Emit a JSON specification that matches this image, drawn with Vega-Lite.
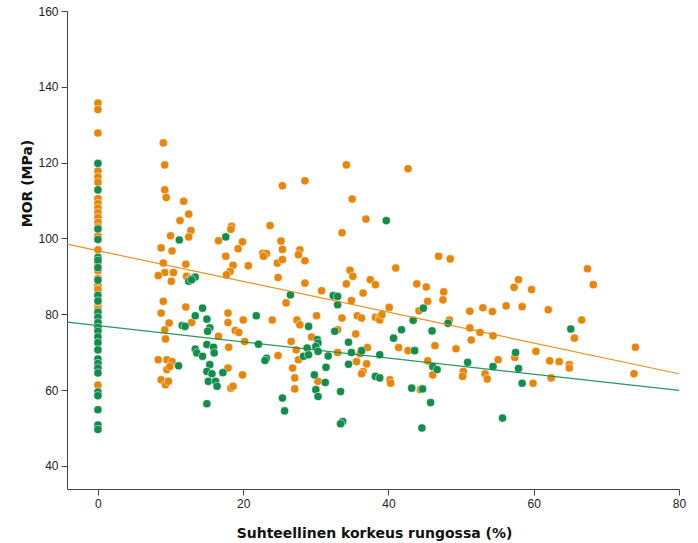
{
"$schema": "https://vega.github.io/schema/vega-lite/v6.json",
"width": 612, "height": 478,
"autosize": {"type": "none"},
"padding": {"left": 67, "top": 11, "right": 19, "bottom": 54},
"background": "white",
"config": {
 "view": {"stroke": null},
 "axis": {"grid": false, "domainColor": "#444", "tickColor": "#444", "tickSize": 6, "labelFont": "Liberation Sans", "labelFontSize": 12, "labelColor": "#222", "titleFont": "DejaVu Sans", "titleFontWeight": "bold", "titleFontSize": 14, "titleColor": "#111", "labelPadding": 3}
},
"datasets": {
"pts": [
{"x":0,"y":135.7,"g":"A"},{"x":0,"y":134.0,"g":"A"},{"x":0,"y":127.8,"g":"A"},{"x":0,"y":117.8,"g":"A"},{"x":0,"y":116.2,"g":"A"},{"x":0,"y":114.8,"g":"A"},{"x":0,"y":110.5,"g":"A"},{"x":0,"y":109.2,"g":"A"},{"x":0,"y":108.0,"g":"A"},{"x":0,"y":106.8,"g":"A"},{"x":0,"y":105.5,"g":"A"},{"x":0,"y":104.2,"g":"A"},{"x":0,"y":103.0,"g":"A"},{"x":0,"y":100.6,"g":"A"},{"x":0,"y":97.0,"g":"A"},{"x":0,"y":93.6,"g":"A"},{"x":0,"y":91.5,"g":"A"},{"x":0,"y":89.5,"g":"A"},{"x":0,"y":87.5,"g":"A"},{"x":0,"y":86.5,"g":"A"},{"x":0,"y":83.8,"g":"A"},{"x":0,"y":82.0,"g":"A"},{"x":0,"y":81.2,"g":"A"},{"x":0,"y":76.8,"g":"A"},{"x":0,"y":61.3,"g":"A"},
{"x":0,"y":119.8,"g":"B"},{"x":0,"y":112.8,"g":"B"},{"x":0,"y":102.5,"g":"B"},{"x":0,"y":99.7,"g":"B"},{"x":0,"y":95.0,"g":"B"},{"x":0,"y":94.2,"g":"B"},{"x":0,"y":92.3,"g":"B"},{"x":0,"y":89.0,"g":"B"},{"x":0,"y":85.0,"g":"B"},{"x":0,"y":83.5,"g":"B"},{"x":0,"y":80.5,"g":"B"},{"x":0,"y":79.2,"g":"B"},{"x":0,"y":77.8,"g":"B"},{"x":0,"y":76.5,"g":"B"},{"x":0,"y":75.5,"g":"B"},{"x":0,"y":74.0,"g":"B"},{"x":0,"y":72.5,"g":"B"},{"x":0,"y":70.6,"g":"B"},{"x":0,"y":68.2,"g":"B"},{"x":0,"y":67.0,"g":"B"},{"x":0,"y":65.8,"g":"B"},{"x":0,"y":64.5,"g":"B"},{"x":0,"y":59.5,"g":"B"},{"x":0,"y":58.5,"g":"B"},{"x":0,"y":54.8,"g":"B"},{"x":0,"y":50.8,"g":"B"},{"x":0,"y":49.6,"g":"B"},
{"x":9.0,"y":125.2,"g":"A"},{"x":9.2,"y":119.4,"g":"A"},{"x":9.2,"y":112.8,"g":"A"},{"x":9.4,"y":110.8,"g":"A"},{"x":11.8,"y":109.8,"g":"A"},{"x":12.5,"y":106.4,"g":"A"},{"x":11.3,"y":104.7,"g":"A"},{"x":12.8,"y":102.1,"g":"A"},{"x":12.5,"y":100.4,"g":"A"},{"x":10.0,"y":100.7,"g":"A"},{"x":8.7,"y":97.5,"g":"A"},{"x":10.2,"y":96.7,"g":"A"},
{"x":18.4,"y":103.2,"g":"A"},{"x":18.3,"y":102.4,"g":"A"},{"x":16.6,"y":99.4,"g":"A"},{"x":19.9,"y":99.1,"g":"A"},{"x":19.3,"y":97.3,"g":"A"},{"x":17.6,"y":95.3,"g":"A"},{"x":23.7,"y":103.4,"g":"A"},{"x":25.4,"y":113.9,"g":"A"},{"x":28.5,"y":115.2,"g":"A"},{"x":25.2,"y":99.3,"g":"A"},{"x":25.4,"y":97.1,"g":"A"},{"x":22.7,"y":96.1,"g":"A"},{"x":23.2,"y":96.0,"g":"A"},{"x":22.8,"y":95.3,"g":"A"},{"x":27.8,"y":97.0,"g":"A"},{"x":27.6,"y":95.7,"g":"A"},{"x":28.5,"y":94.1,"g":"A"},{"x":24.7,"y":93.5,"g":"A"},{"x":25.4,"y":94.4,"g":"A"},{"x":24.8,"y":89.7,"g":"A"},
{"x":18.6,"y":92.9,"g":"A"},{"x":18.2,"y":91.3,"g":"A"},{"x":17.7,"y":90.4,"g":"A"},{"x":20.7,"y":92.8,"g":"A"},
{"x":9.0,"y":93.5,"g":"A"},{"x":9.2,"y":91.0,"g":"A"},{"x":8.3,"y":90.2,"g":"A"},{"x":10.4,"y":91.0,"g":"A"},{"x":12.1,"y":93.2,"g":"A"},{"x":12.2,"y":90.0,"g":"A"},{"x":12.8,"y":89.5,"g":"A"},{"x":10.1,"y":88.7,"g":"A"},
{"x":28.5,"y":88.2,"g":"A"},{"x":25.9,"y":83.0,"g":"A"},{"x":9.0,"y":83.4,"g":"A"},{"x":8.7,"y":80.3,"g":"A"},{"x":9.8,"y":77.7,"g":"A"},{"x":9.2,"y":75.9,"g":"A"},{"x":9.3,"y":73.5,"g":"A"},{"x":8.3,"y":68.0,"g":"A"},{"x":9.5,"y":68.0,"g":"A"},{"x":10.2,"y":67.5,"g":"A"},{"x":9.5,"y":65.4,"g":"A"},{"x":9.9,"y":66.2,"g":"A"},{"x":8.7,"y":62.7,"g":"A"},{"x":9.3,"y":61.4,"g":"A"},{"x":9.7,"y":62.3,"g":"A"},
{"x":12.1,"y":81.9,"g":"A"},{"x":12.9,"y":77.8,"g":"A"},{"x":17.9,"y":80.3,"g":"A"},{"x":17.9,"y":77.8,"g":"A"},{"x":16.6,"y":74.2,"g":"A"},{"x":18.0,"y":71.3,"g":"A"},{"x":17.9,"y":65.8,"g":"A"},{"x":19.9,"y":64.0,"g":"A"},{"x":18.3,"y":60.5,"g":"A"},{"x":18.6,"y":61.0,"g":"A"},{"x":20.0,"y":78.5,"g":"A"},{"x":18.9,"y":75.7,"g":"A"},{"x":19.4,"y":75.2,"g":"A"},{"x":20.2,"y":72.8,"g":"A"},{"x":24.0,"y":78.5,"g":"A"},{"x":24.8,"y":69.1,"g":"A"},{"x":27.4,"y":78.5,"g":"A"},{"x":27.8,"y":77.2,"g":"A"},{"x":26.6,"y":72.8,"g":"A"},{"x":27.3,"y":70.6,"g":"A"},{"x":27.6,"y":68.0,"g":"A"},{"x":26.8,"y":65.8,"g":"A"},{"x":27.1,"y":63.2,"g":"A"},{"x":27.1,"y":60.3,"g":"A"},
{"x":33.6,"y":101.5,"g":"A"},{"x":46.9,"y":95.3,"g":"A"},{"x":48.5,"y":94.6,"g":"A"},{"x":41.0,"y":92.2,"g":"A"},{"x":34.7,"y":91.6,"g":"A"},{"x":35.1,"y":90.0,"g":"A"},{"x":34.2,"y":88.0,"g":"A"},{"x":37.5,"y":89.1,"g":"A"},{"x":38.2,"y":87.8,"g":"A"},{"x":43.9,"y":88.0,"g":"A"},{"x":45.2,"y":87.2,"g":"A"},{"x":47.6,"y":85.9,"g":"A"},{"x":47.5,"y":83.8,"g":"A"},{"x":30.8,"y":86.2,"g":"A"},{"x":36.5,"y":85.6,"g":"A"},{"x":34.9,"y":83.6,"g":"A"},{"x":45.4,"y":83.4,"g":"A"},{"x":44.2,"y":80.9,"g":"A"},{"x":40.1,"y":81.8,"g":"A"},{"x":51.2,"y":80.8,"g":"A"},{"x":53.0,"y":81.7,"g":"A"},{"x":54.3,"y":80.7,"g":"A"},{"x":30.1,"y":79.6,"g":"A"},{"x":33.6,"y":79.0,"g":"A"},{"x":35.7,"y":79.6,"g":"A"},{"x":36.3,"y":79.0,"g":"A"},{"x":38.2,"y":79.2,"g":"A"},{"x":38.8,"y":79.3,"g":"A"},{"x":38.8,"y":78.5,"g":"A"},{"x":39.1,"y":79.9,"g":"A"},{"x":48.4,"y":78.5,"g":"A"},{"x":51.2,"y":76.4,"g":"A"},{"x":52.6,"y":75.2,"g":"A"},{"x":54.4,"y":74.3,"g":"A"},{"x":51.4,"y":73.2,"g":"A"},{"x":29.4,"y":74.0,"g":"A"},{"x":33.0,"y":75.9,"g":"A"},{"x":35.5,"y":74.8,"g":"A"},{"x":37.1,"y":71.2,"g":"A"},{"x":41.4,"y":71.2,"g":"A"},{"x":42.7,"y":70.4,"g":"A"},{"x":46.4,"y":71.7,"g":"A"},{"x":49.3,"y":70.9,"g":"A"},{"x":33.0,"y":69.9,"g":"A"},{"x":36.1,"y":69.6,"g":"A"},{"x":35.6,"y":67.5,"g":"A"},{"x":37.0,"y":66.9,"g":"A"},{"x":36.5,"y":64.9,"g":"A"},{"x":36.3,"y":64.3,"g":"A"},{"x":30.3,"y":62.3,"g":"A"},{"x":40.2,"y":62.7,"g":"A"},{"x":40.3,"y":61.8,"g":"A"},{"x":45.4,"y":67.7,"g":"A"},{"x":46.1,"y":64.0,"g":"A"},{"x":50.3,"y":64.9,"g":"A"},{"x":50.2,"y":63.6,"g":"A"},{"x":53.3,"y":64.3,"g":"A"},{"x":53.6,"y":62.9,"g":"A"},{"x":44.4,"y":60.1,"g":"A"},{"x":55.1,"y":68.0,"g":"A"},
{"x":34.2,"y":119.4,"g":"A"},{"x":42.7,"y":118.4,"g":"A"},{"x":35.0,"y":110.4,"g":"A"},{"x":36.9,"y":105.1,"g":"A"},
{"x":67.4,"y":92.0,"g":"A"},{"x":68.2,"y":87.8,"g":"A"},{"x":57.9,"y":89.1,"g":"A"},{"x":57.3,"y":87.1,"g":"A"},{"x":59.7,"y":86.5,"g":"A"},{"x":56.2,"y":82.2,"g":"A"},{"x":58.4,"y":82.0,"g":"A"},{"x":62.0,"y":81.2,"g":"A"},{"x":66.6,"y":78.5,"g":"A"},{"x":65.6,"y":73.7,"g":"A"},{"x":57.4,"y":68.6,"g":"A"},{"x":60.3,"y":70.2,"g":"A"},{"x":62.2,"y":67.7,"g":"A"},{"x":63.5,"y":67.5,"g":"A"},{"x":62.4,"y":63.2,"g":"A"},{"x":64.9,"y":66.7,"g":"A"},{"x":64.9,"y":65.8,"g":"A"},{"x":74.0,"y":71.3,"g":"A"},{"x":73.8,"y":64.3,"g":"A"},{"x":59.9,"y":61.8,"g":"A"},
{"x":11.2,"y":99.6,"g":"B"},{"x":17.6,"y":100.4,"g":"B"},{"x":13.4,"y":89.8,"g":"B"},{"x":12.5,"y":88.7,"g":"B"},{"x":12.9,"y":89.1,"g":"B"},{"x":26.5,"y":85.1,"g":"B"},{"x":11.1,"y":66.4,"g":"B"},{"x":14.4,"y":81.6,"g":"B"},{"x":13.4,"y":79.6,"g":"B"},{"x":11.6,"y":77.0,"g":"B"},{"x":12.0,"y":76.8,"g":"B"},{"x":15.0,"y":78.7,"g":"B"},{"x":15.4,"y":76.4,"g":"B"},{"x":15.1,"y":75.5,"g":"B"},{"x":13.4,"y":70.8,"g":"B"},{"x":13.6,"y":69.8,"g":"B"},{"x":14.4,"y":68.9,"g":"B"},{"x":15.0,"y":72.0,"g":"B"},{"x":15.9,"y":71.3,"g":"B"},{"x":16.0,"y":69.8,"g":"B"},{"x":15.4,"y":66.7,"g":"B"},{"x":15.0,"y":64.9,"g":"B"},{"x":15.7,"y":64.3,"g":"B"},{"x":15.2,"y":62.3,"g":"B"},{"x":16.2,"y":62.3,"g":"B"},{"x":16.4,"y":61.0,"g":"B"},{"x":17.2,"y":64.6,"g":"B"},{"x":15.0,"y":56.4,"g":"B"},{"x":21.8,"y":79.6,"g":"B"},{"x":22.1,"y":72.1,"g":"B"},{"x":23.2,"y":68.4,"g":"B"},{"x":23.0,"y":67.8,"g":"B"},{"x":25.4,"y":57.9,"g":"B"},{"x":25.7,"y":54.5,"g":"B"},{"x":28.8,"y":71.1,"g":"B"},{"x":28.3,"y":68.9,"g":"B"},{"x":29.0,"y":69.3,"g":"B"},{"x":29.0,"y":76.8,"g":"B"},
{"x":32.4,"y":84.9,"g":"B"},{"x":33.0,"y":84.7,"g":"B"},{"x":33.0,"y":82.5,"g":"B"},{"x":44.8,"y":81.6,"g":"B"},{"x":43.4,"y":78.4,"g":"B"},{"x":48.2,"y":77.6,"g":"B"},{"x":30.2,"y":73.3,"g":"B"},{"x":30.3,"y":72.4,"g":"B"},{"x":30.0,"y":71.5,"g":"B"},{"x":30.3,"y":70.2,"g":"B"},{"x":32.6,"y":75.5,"g":"B"},{"x":34.5,"y":72.6,"g":"B"},{"x":40.7,"y":73.7,"g":"B"},{"x":41.8,"y":75.9,"g":"B"},{"x":46.0,"y":75.6,"g":"B"},{"x":43.6,"y":70.4,"g":"B"},{"x":31.7,"y":69.0,"g":"B"},{"x":34.9,"y":69.9,"g":"B"},{"x":36.3,"y":70.4,"g":"B"},{"x":38.8,"y":69.3,"g":"B"},{"x":34.5,"y":66.8,"g":"B"},{"x":31.4,"y":66.0,"g":"B"},{"x":29.8,"y":64.0,"g":"B"},{"x":31.3,"y":62.0,"g":"B"},{"x":38.2,"y":63.6,"g":"B"},{"x":38.8,"y":63.2,"g":"B"},{"x":46.1,"y":66.2,"g":"B"},{"x":46.7,"y":65.4,"g":"B"},{"x":50.9,"y":67.3,"g":"B"},{"x":30.0,"y":60.1,"g":"B"},{"x":30.3,"y":58.3,"g":"B"},{"x":33.4,"y":59.6,"g":"B"},{"x":43.2,"y":60.5,"g":"B"},{"x":44.7,"y":60.3,"g":"B"},{"x":45.8,"y":56.7,"g":"B"},{"x":33.7,"y":51.7,"g":"B"},{"x":33.4,"y":51.1,"g":"B"},{"x":44.6,"y":50.0,"g":"B"},{"x":39.7,"y":104.7,"g":"B"},
{"x":54.4,"y":66.2,"g":"B"},{"x":65.1,"y":76.1,"g":"B"},{"x":57.5,"y":69.9,"g":"B"},{"x":57.9,"y":65.7,"g":"B"},{"x":58.4,"y":61.8,"g":"B"},{"x":55.7,"y":52.6,"g":"B"}
],
"fit": [
{"x":-4.26,"y":98.5,"g":"A"},{"x":80,"y":64.3,"g":"A"},
{"x":-4.26,"y":77.9,"g":"B"},{"x":80,"y":59.9,"g":"B"}
]
},
"layer": [
{
 "data": {"name": "pts"},
 "mark": {"type": "circle", "size": 66, "opacity": 1, "stroke": "#ffffff", "strokeWidth": 0.5},
 "encoding": {
  "x": {"field": "x", "type": "quantitative", "scale": {"domain": [-4.26, 80], "nice": false, "zero": false},
        "axis": {"values": [0, 20, 40, 60, 80], "title": "Suhteellinen korkeus rungossa (%)", "titleX": 307, "titleY": 44, "titleBaseline": "middle", "titleAlign": "center", "labelFlush": false}},
  "y": {"field": "y", "type": "quantitative", "scale": {"domain": [33.9, 160], "nice": false, "zero": false},
        "axis": {"values": [40, 60, 80, 100, 120, 140, 160], "title": "MOR (MPa)", "titleX": -40, "titleY": 172, "titleAngle": -90, "titleBaseline": "middle", "titleAlign": "center", "labelFlush": false}},
  "color": {"field": "g", "type": "nominal", "scale": {"domain": ["A", "B"], "range": ["#E8860C", "#138D4B"]}, "legend": null}
 }
},
{
 "data": {"name": "fit"},
 "mark": {"type": "line", "strokeWidth": 1.2, "opacity": 0.9},
 "encoding": {
  "x": {"field": "x", "type": "quantitative"},
  "y": {"field": "y", "type": "quantitative"},
  "color": {"field": "g", "type": "nominal", "legend": null},
  "detail": {"field": "g"}
 }
}
]
}
